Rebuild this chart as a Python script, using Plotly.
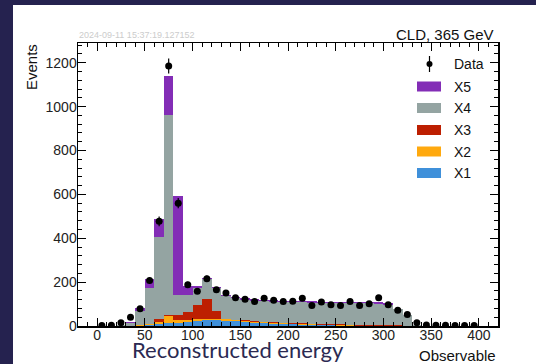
import math
import plotly.graph_objects as go

# Histogram binning: 10-unit bins from 0 to 400 (bin centres)
bin_centers = [5, 15, 25, 35, 45, 55, 65, 75, 85, 95,
               105, 115, 125, 135, 145, 155, 165, 175, 185, 195,
               205, 215, 225, 235, 245, 255, 265, 275, 285, 295,
               305, 315, 325, 335, 345, 355, 365, 375, 385, 395]

# Stacked simulated contributions (events per bin)
x1 = [0, 0, 0, 0, 1, 3, 8, 13, 15, 18,
      24, 26, 26, 24, 21, 18, 15, 13, 11, 9,
      7, 6, 5, 4, 3, 2, 2, 1, 1, 1,
      1, 0, 0, 0, 0, 0, 0, 0, 0, 0]
x2 = [0, 0, 0, 0, 2, 4, 9, 32, 14, 9,
      7, 7, 6, 6, 5, 5, 4, 4, 4, 3,
      3, 3, 2, 2, 2, 2, 1, 1, 1, 1,
      1, 1, 0, 0, 0, 0, 0, 0, 0, 0]
x3 = [0, 0, 0, 1, 2, 4, 13, 5, 22, 38,
      65, 92, 36, 4, 3, 3, 3, 3, 3, 3,
      3, 3, 3, 3, 3, 3, 3, 3, 3, 3,
      3, 2, 2, 0, 0, 0, 0, 0, 0, 0]
x4 = [0, 0, 4, 13, 65, 161, 374, 910, 90, 76,
      76, 87, 103, 101, 98, 94, 93, 93, 93, 95,
      96, 96, 96, 96, 96, 97, 97, 98, 98, 97,
      93, 73, 46, 4, 1, 0, 0, 0, 0, 0]
x5 = [0, 0, 1, 4, 14, 41, 84, 179, 452, 41,
      10, 5, 5, 6, 6, 6, 6, 6, 6, 6,
      6, 6, 6, 6, 6, 6, 6, 6, 6, 6,
      6, 3, 2, 0, 0, 0, 0, 0, 0, 0]

# Observed counts
data = [2, 3, 15, 40, 79, 207, 477, 1185, 560, 188,
        158, 215, 165, 150, 129, 122, 112, 127, 117, 112,
        113, 127, 94, 109, 97, 94, 112, 94, 101, 129,
        97, 72, 52, 15, 5, 3, 3, 2, 2, 2]

x_ticks = [0, 50, 100, 150, 200, 250, 300, 350, 400]
y_ticks = [0, 200, 400, 600, 800, 1000, 1200]

components = [("X1", x1, "#3f90da"), ("X2", x2, "#ffa90e"),
              ("X3", x3, "#bd1f01"), ("X4", x4, "#94a4a2"),
              ("X5", x5, "#832db6")]

NAVY = "#25224f"
FONT = "Liberation Sans, Arial, sans-serif"

fig = go.Figure()
for name, vals, col in components:
    fig.add_trace(go.Bar(x=bin_centers, y=vals, width=10, name=name,
                         marker=dict(color=col, line=dict(width=0)),
                         showlegend=False, hoverinfo="skip"))

fig.add_trace(go.Scatter(
    x=bin_centers, y=data, mode="markers", name="Data",
    marker=dict(color="black", size=7),
    error_y=dict(type="data", array=[math.sqrt(v) for v in data],
                 color="black", thickness=1.2, width=0),
    showlegend=False, hoverinfo="skip"))

# plot area: 78..498 px wide, 43..326 px tall
W, H = 536, 364
L, R, T, B = 78, 38, 43, 38
pw, ph = W - L - R, H - T - B


def px(xp):
    return (xp - L) / pw


def py(yp):
    return (H - B - yp) / ph


# dark frame strips along the left and top edges of the page
shapes = [
    dict(type="rect", xref="paper", yref="paper",
         x0=px(0), x1=px(13), y0=py(H), y1=py(0),
         fillcolor=NAVY, line=dict(width=0)),
    dict(type="rect", xref="paper", yref="paper",
         x0=px(0), x1=px(W), y0=py(5), y1=py(0),
         fillcolor=NAVY, line=dict(width=0)),
]

annotations = [
    dict(text="CLD, 365 GeV", x=px(496), y=py(34), xref="paper", yref="paper",
         xanchor="right", yanchor="middle", showarrow=False,
         font=dict(family=FONT, size=15, color="#111")),
    dict(text="2024-09-11 15:37:19.127152", x=px(77), y=py(35),
         xref="paper", yref="paper", xanchor="left", yanchor="middle",
         showarrow=False, font=dict(family=FONT, size=9, color="#cccccc")),
    dict(text="Events", x=px(31), y=py(42), xref="paper", yref="paper",
         xanchor="center", yanchor="top", textangle=-90, showarrow=False,
         font=dict(family=FONT, size=15, color="#111")),
    dict(text="Observable", x=px(498), y=py(355), xref="paper", yref="paper",
         xanchor="right", yanchor="middle", showarrow=False,
         font=dict(family=FONT, size=15, color="#111")),
    dict(text="Reconstructed energy", x=px(238), y=py(349), xref="paper",
         yref="paper", xanchor="center", yanchor="middle", showarrow=False,
         font=dict(family="Lato, sans-serif", size=22, color="#2b2a52")),
]

# legend drawn as swatches and labels
legend_rows = [("Data", None), ("X5", "#832db6"), ("X4", "#94a4a2"),
               ("X3", "#bd1f01"), ("X2", "#ffa90e"), ("X1", "#3f90da")]
row_y = [64, 86.5, 108, 130, 151.5, 173]
for (label, col), ry in zip(legend_rows, row_y):
    if col is None:
        shapes.append(dict(type="line", xref="paper", yref="paper",
                           x0=px(429.5), x1=px(429.5), y0=py(ry - 8), y1=py(ry + 8),
                           line=dict(color="black", width=1.2)))
        shapes.append(dict(type="circle", xref="paper", yref="paper",
                           x0=px(426.5), x1=px(432.5), y0=py(ry - 3), y1=py(ry + 3),
                           fillcolor="black", line=dict(width=0)))
    else:
        shapes.append(dict(type="rect", xref="paper", yref="paper",
                           x0=px(417), x1=px(441), y0=py(ry - 5), y1=py(ry + 5),
                           fillcolor=col, line=dict(width=0)))
    annotations.append(dict(text=label, x=px(452), y=py(ry), xref="paper",
                            yref="paper", xanchor="left", yanchor="middle",
                            showarrow=False,
                            font=dict(family=FONT, size=14, color="#111")))

axis_common = dict(showline=True, linecolor="black", linewidth=1.5,
                   mirror="ticks", ticks="inside", ticklen=8, tickwidth=1,
                   tickcolor="black", showgrid=False, zeroline=False,
                   tickfont=dict(family=FONT, size=14, color="#222"))

fig.update_layout(
    width=W, height=H, barmode="stack", bargap=0,
    margin=dict(l=L, r=R, t=T, b=B),
    paper_bgcolor="white", plot_bgcolor="white",
    showlegend=False,
    xaxis=dict(range=[-20, 420], tickvals=x_ticks, ticklabelstandoff=-4,
               minor=dict(ticks="inside", dtick=10, tick0=0, ticklen=4,
                          tickcolor="black"),
               **axis_common),
    yaxis=dict(range=[0, 1290], tickvals=y_ticks, ticklabelstandoff=-3,
               minor=dict(ticks="inside", dtick=40, tick0=0, ticklen=4,
                          tickcolor="black"),
               **axis_common),
    shapes=shapes, annotations=annotations,
)

fig.write_html("out.html", config={"staticPlot": True, "displayModeBar": False})
